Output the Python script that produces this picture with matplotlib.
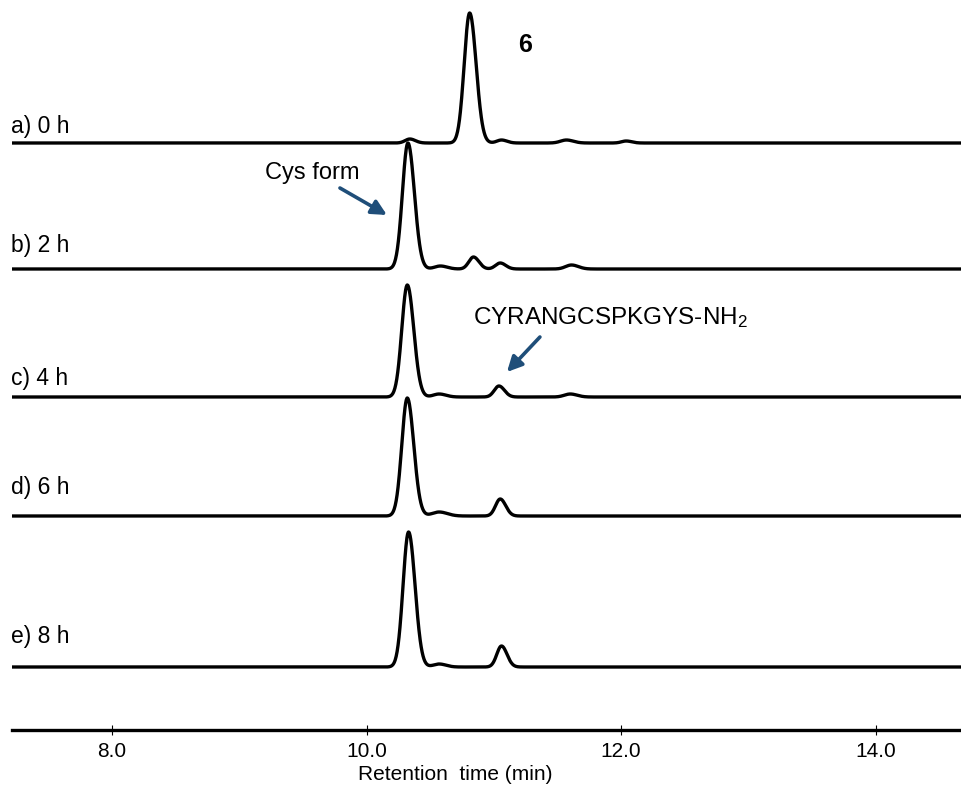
import numpy as np
import matplotlib.pyplot as plt

plt.rcParams['font.family'] = ['Liberation Sans', 'DejaVu Sans']
plt.rcParams['mathtext.fontset'] = 'custom'
plt.rcParams['mathtext.rm'] = 'Liberation Sans'
plt.rcParams['mathtext.it'] = 'Liberation Sans:italic'

# Sample labels and their vertical offsets (arbitrary absorbance units)
trace_labels = ['a) 0 h', 'b) 2 h', 'c) 4 h', 'd) 6 h', 'e) 8 h']
trace_offsets = [587, 461, 333, 214, 63]
label_heights = [597, 478, 345, 236, 87]

# Peak tables for each chromatogram: retention time (min), height, width (min)
peak_rt = [
    [10.34, 10.81, 11.06, 11.57, 12.04],
    [10.325, 10.58, 10.84, 11.05, 11.61],
    [10.32, 10.57, 11.04, 11.60],
    [10.32, 10.57, 11.05],
    [10.33, 10.57, 11.06],
]
peak_height = [
    [4, 130, 3, 3, 2],
    [126, 3, 12, 6, 4],
    [112, 3, 11, 3],
    [118, 4, 17],
    [135, 3, 21],
]
peak_width = [
    [0.04, 0.047, 0.04, 0.05, 0.04],
    [0.047, 0.05, 0.04, 0.04, 0.05],
    [0.047, 0.05, 0.04, 0.05],
    [0.047, 0.06, 0.04],
    [0.047, 0.05, 0.04],
]

x_ticks = [8.0, 10.0, 12.0, 14.0]
x_tick_labels = ['8.0', '10.0', '12.0', '14.0']

arrow_color = '#1F4E79'

fig = plt.figure(figsize=(9.61, 7.89), dpi=100)
ax = fig.add_axes([12 / 961, 59 / 789, 949 / 961, 730 / 789])
ax.set_xlim(7.2145, 14.67)
ax.set_ylim(0, 730)

t = np.linspace(7.2145, 14.67, 3000)
for label, off, ly, rts, hs, ws in zip(trace_labels, trace_offsets, label_heights,
                                       peak_rt, peak_height, peak_width):
    y = np.zeros_like(t)
    for rt, h, w in zip(rts, hs, ws):
        # slight tailing on the trailing edge of each peak
        s = np.where(t < rt, w * 0.92, w * 1.08)
        y += h * np.exp(-0.5 * ((t - rt) / s) ** 2)
    ax.plot(t, y + off, color='black', lw=2.4, solid_capstyle='butt', clip_on=False)
    ax.text(7.205, ly, label, fontsize=16.5, ha='left', va='baseline')

# Compound label above the main peak of the first trace
ax.text(11.244, 685, '6', fontsize=18, fontweight='bold', ha='center', va='center')

# Annotations with arrows
arrow_style = dict(arrowstyle='-|>,head_length=0.9,head_width=0.45',
                   color=arrow_color, lw=2.6, shrinkA=0, shrinkB=0)
ax.text(9.571, 557, 'Cys form', fontsize=17, ha='center', va='center')
ax.annotate('', xy=(10.16, 515), xytext=(9.791, 542), arrowprops=arrow_style)
ax.text(10.836, 412, 'CYRANGCSPKGYS-NH$_2$', fontsize=17.5, ha='left', va='center')
ax.annotate('', xy=(11.103, 358), xytext=(11.362, 393), arrowprops=arrow_style)

# Axes styling: only the time axis is shown
for side in ['left', 'right', 'top']:
    ax.spines[side].set_visible(False)
ax.spines['bottom'].set_linewidth(2.4)
ax.set_yticks([])
ax.set_xticks(x_ticks)
ax.set_xticklabels(x_tick_labels, fontsize=15)
ax.tick_params(axis='x', direction='inout', length=7, width=0.8, pad=5)

ax.text(10.694, -45, 'Retention  time (min)', fontsize=15, ha='center', va='center',
        clip_on=False)

fig.savefig('out.png', dpi=100)
